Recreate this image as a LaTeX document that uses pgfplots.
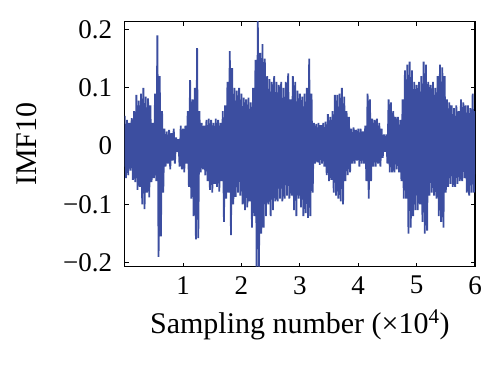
\documentclass[border=0pt]{standalone}
\usepackage{fontspec}
\setmainfont{Liberation Serif}
\usepackage{pgfplots}
\pgfplotsset{compat=1.18}
\definecolor{plotblue}{RGB}{60,78,160}
\begin{document}
\begin{tikzpicture}
\begin{axis}[
  scale only axis,
  width=350.3pt, height=245pt,
  xmin=0, xmax=6, ymin=-0.207, ymax=0.2135,
  xtick={1,2,3,4,5,6}, xticklabels={1,2,3,4,5,6},
  ytick={-0.2,-0.1,0,0.1,0.2}, yticklabels={−0.2,−0.1,0,0.1,0.2},
  tick align=inside,
  major tick length=4pt,
  tick style={black, line width=1pt},
  axis line style={black, line width=1.5pt},
  tick label style={font=\fontsize{27}{30}\selectfont},
  xticklabel style={yshift=-6pt},
  yticklabel style={xshift=-9pt},
  label style={font=\fontsize{30}{34}\selectfont},
  xlabel={Sampling number (×10\textsuperscript{4})},
  ylabel={IMF10},
  xlabel style={at={(axis description cs:0.5,-0.2706)}, anchor=base},
  ylabel style={at={(axis description cs:-0.2514,0.5)}, anchor=base},
  clip=true,
]
\addplot[plotblue, line width=1.8pt, no markers] table[x=x, y=y] {
x y
0.00 0.052
0.02 -0.055
0.04 0.045
0.06 -0.050
0.08 0.040
0.10 -0.042
0.12 0.048
0.14 -0.058
0.16 0.060
0.18 -0.062
0.20 0.088
0.22 -0.075
0.24 0.078
0.26 -0.070
0.28 0.090
0.30 -0.100
0.32 0.100
0.34 -0.108
0.36 0.085
0.38 -0.080
0.40 0.082
0.42 -0.088
0.44 0.070
0.46 -0.062
0.48 0.040
0.50 -0.055
0.52 0.090
0.54 -0.060
0.56 0.190
0.58 -0.190
0.60 0.120
0.62 -0.155
0.64 0.060
0.66 -0.080
0.68 0.030
0.70 -0.035
0.72 0.025
0.74 -0.030
0.76 0.028
0.78 -0.040
0.80 0.022
0.82 -0.025
0.84 0.030
0.86 -0.030
0.88 0.015
0.90 -0.010
0.92 0.012
0.94 -0.035
0.96 0.035
0.98 -0.040
1.00 0.030
1.02 -0.045
1.04 0.035
1.06 -0.030
1.08 0.060
1.10 -0.070
1.12 0.113
1.14 -0.090
1.16 0.080
1.18 -0.120
1.20 0.100
1.22 -0.160
1.24 0.168
1.26 -0.158
1.28 0.060
1.30 -0.045
1.32 0.040
1.34 -0.040
1.36 0.035
1.38 -0.050
1.40 0.045
1.42 -0.060
1.44 0.047
1.46 -0.075
1.48 0.045
1.50 -0.080
1.52 0.040
1.54 -0.065
1.56 0.047
1.58 -0.070
1.60 0.045
1.62 -0.078
1.64 0.040
1.66 -0.060
1.68 0.060
1.70 -0.130
1.72 0.070
1.74 -0.090
1.76 0.110
1.78 -0.080
1.80 0.163
1.82 -0.153
1.84 0.134
1.86 -0.100
1.88 0.100
1.90 -0.087
1.92 0.095
1.94 -0.080
1.96 0.100
1.98 -0.085
2.00 0.090
2.02 -0.100
2.04 0.083
2.06 -0.110
2.08 0.080
2.10 -0.105
2.12 0.083
2.14 -0.095
2.16 0.075
2.18 -0.140
2.20 0.100
2.22 -0.120
2.24 0.148
2.26 -0.207
2.28 0.216
2.30 -0.207
2.32 0.160
2.34 -0.150
2.36 0.175
2.38 -0.140
2.40 0.150
2.42 -0.120
2.44 0.120
2.46 -0.100
2.48 0.115
2.50 -0.120
2.52 0.110
2.54 -0.110
2.56 0.120
2.58 -0.095
2.60 0.110
2.62 -0.095
2.64 0.105
2.66 -0.090
2.68 0.110
2.70 -0.095
2.72 0.100
2.74 -0.090
2.76 0.110
2.78 -0.085
2.80 0.125
2.82 -0.090
2.84 0.080
2.86 -0.085
2.88 0.120
2.90 -0.110
2.92 0.110
2.94 -0.120
2.96 0.095
2.98 -0.090
3.00 0.090
3.02 -0.105
3.04 0.085
3.06 -0.120
3.08 0.090
3.10 -0.115
3.12 0.100
3.14 -0.123
3.16 0.150
3.18 -0.120
3.20 0.090
3.22 -0.080
3.24 0.040
3.26 -0.030
3.28 0.038
3.30 -0.028
3.32 0.040
3.34 -0.032
3.36 0.036
3.38 -0.030
3.40 0.040
3.42 -0.035
3.44 0.042
3.46 -0.050
3.48 0.055
3.50 -0.060
3.52 0.050
3.54 -0.058
3.56 0.060
3.58 -0.080
3.60 0.088
3.62 -0.085
3.64 0.088
3.66 -0.090
3.68 0.090
3.70 -0.095
3.72 0.100
3.74 -0.100
3.76 0.085
3.78 -0.060
3.80 0.060
3.82 -0.050
3.84 0.050
3.86 -0.045
3.88 0.030
3.90 -0.030
3.92 0.032
3.94 -0.030
3.96 0.028
3.98 -0.025
4.00 0.030
4.02 -0.035
4.04 0.030
4.06 -0.030
4.08 0.025
4.10 -0.030
4.12 0.035
4.14 -0.060
4.16 0.090
4.18 -0.090
4.20 0.080
4.22 -0.060
4.24 0.047
4.26 -0.035
4.28 0.045
4.30 -0.035
4.32 0.047
4.34 -0.030
4.36 0.040
4.38 -0.035
4.40 0.030
4.42 -0.020
4.44 0.020
4.46 -0.010
4.48 0.020
4.50 -0.030
4.52 0.080
4.54 -0.045
4.56 0.075
4.58 -0.045
4.60 0.060
4.62 -0.045
4.64 0.050
4.66 -0.040
4.68 0.050
4.70 -0.045
4.72 0.045
4.74 -0.060
4.76 0.080
4.78 -0.090
4.80 0.130
4.82 -0.090
4.84 0.140
4.86 -0.150
4.88 0.145
4.90 -0.140
4.92 0.130
4.94 -0.120
4.96 0.110
4.98 -0.110
5.00 0.105
5.02 -0.110
5.04 0.110
5.06 -0.100
5.08 0.120
5.10 -0.130
5.12 0.145
5.14 -0.150
5.16 0.140
5.18 -0.145
5.20 0.110
5.22 -0.085
5.24 0.105
5.26 -0.080
5.28 0.110
5.30 -0.085
5.32 0.100
5.34 -0.090
5.36 0.120
5.38 -0.120
5.40 0.140
5.42 -0.130
5.44 0.135
5.46 -0.140
5.48 0.120
5.50 -0.080
5.52 0.080
5.54 -0.070
5.56 0.075
5.58 -0.065
5.60 0.070
5.62 -0.070
5.64 0.065
5.66 -0.070
5.68 0.070
5.70 -0.065
5.72 0.060
5.74 -0.060
5.76 0.080
5.78 -0.060
5.80 0.075
5.82 -0.055
5.84 0.070
5.86 -0.080
5.88 0.070
5.90 -0.085
5.92 0.065
5.94 -0.080
5.96 0.090
5.98 -0.080
6.00 0.060
};
\end{axis}
\pgfresetboundingbox
\path (-124.7pt,-101.3pt) rectangle (375.3pt,266.7pt);
\end{tikzpicture}
\end{document}
